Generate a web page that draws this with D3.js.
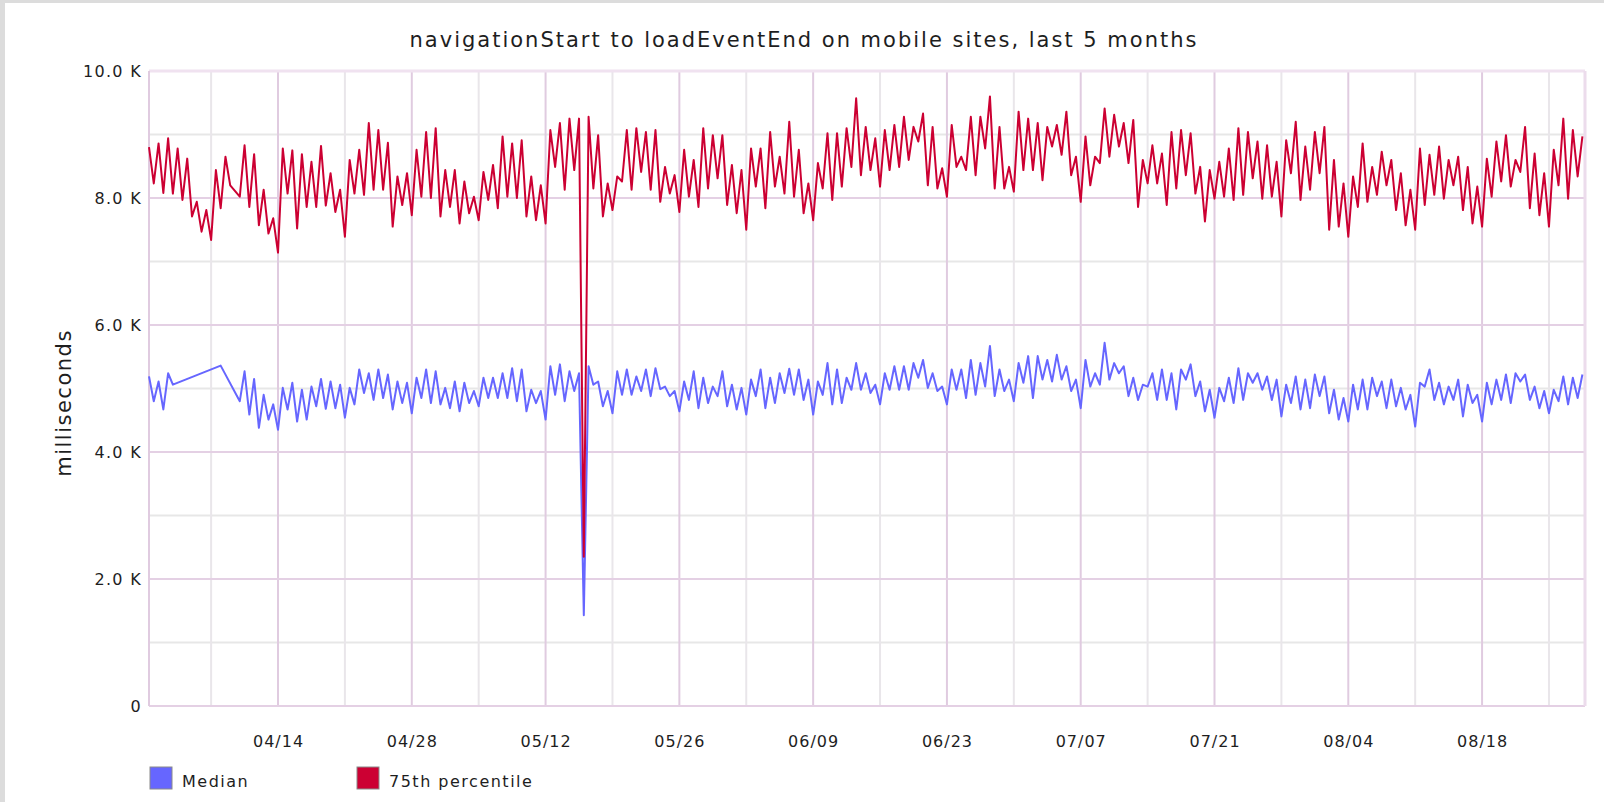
<!DOCTYPE html>
<html lang="en">
<head>
<meta charset="utf-8">
<style>
    body { margin: 0; background: #fff; }
    svg { display: block; }
    text { font-family: "DejaVu Sans", sans-serif; fill: #1e1e1e; }
</style>
</head>
<body>
<svg width="1604" height="802"></svg>
<script src="https://cdnjs.cloudflare.com/ajax/libs/d3/7.8.5/d3.min.js"></script>
<script>
    // Chart data (12 hour samples, ms)
    const chartTitle = "navigationStart to loadEventEnd on mobile sites, last 5 months";
    const yTickValues = [0, 2000, 4000, 6000, 8000, 10000];
    const yMinorValues = [1000, 3000, 5000, 7000, 9000];
    const seriesNames = ["Median", "75th percentile"];
    const firstSample = new Date(2019, 2, 31, 12);
    const sampleHours = 12;

    const median = [5190,
        4800,5110, 4670,5240, 5060,null, null,null, null,null, null,null, null,null, 5360,null, null,null, 4800,5270,
        4590,5150, 4380,4900, 4510,4750, 4350,5010, 4670,5090, 4480,4980, 4510,5030, 4720,5150, 4680,5110, 4690,5060,
        4540,5010, 4750,5300, 4930,5240, 4820,5300, 4850,5220, 4670,5110, 4770,5090, 4610,5170, 4850,5300, 4770,5270,
        4750,5010, 4690,5110, 4640,5090, 4770,4960, 4720,5170, 4850,5170, 4850,5240, 4850,5320, 4800,5300, 4640,4980,
        4770,4960, 4510,5350, 4900,5380, 4800,5270, 4960,5240, 1430,5350, 5060,5110, 4720,4960, 4610,5270, 4900,5300,
        4900,5190, 4960,5300, 4880,5320, 4990,5030, 4880,4960, 4640,5110, 4820,5270, 4690,5170, 4770,5030, 4880,5270,
        4720,5060, 4670,5010, 4590,5140, 4880,5300, 4690,5170, 4770,5240, 4930,5310, 4900,5300, 4820,5140, 4590,5110,
        4900,5400, 4750,5300, 4770,5170, 4980,5400, 4980,5240, 4930,5060, 4750,5240, 4980,5350, 4980,5350, 4980,5400,
        5170,5450, 5010,5240, 4960,5030, 4750,5300, 4980,5300, 4850,5450, 4900,5400, 5030,5670, 4880,5300, 4960,5140,
        4800,5400, 5090,5510, 4850,5510, 5140,5450, 5110,5530, 5140,5350, 4960,5140, 4690,5450, 5030,5240, 5060,5720,
        5140,5400, 5240,5350, 4880,5170, 4820,5060, 5030,5240, 4820,5300, 4820,5240, 4670,5300, 5140,5380, 4880,5110,
        4640,4980, 4540,5010, 4800,5170, 4770,5320, 4820,5240, 5090,5240, 4980,5190, 4820,5140, 4560,5060, 4770,5190,
        4670,5140, 4690,5220, 4880,5190, 4610,4980, 4510,4850, 4480,5060, 4670,5140, 4670,5170, 4880,5110, 4690,5140,
        4720,5010, 4670,4900, 4400,5090, 5030,5300, 4820,5090, 4750,5030, 4820,5140, 4560,5060, 4770,4900, 4480,5090,
        4750,5140, 4820,5220, 4770,5240, 5110,5220, 4820,5030, 4690,4960, 4610,4980, 4800,5190, 4750,5170, 4850,5220];

    const p75 = [8800,
        8230,8860, 8080,8940, 8070,8780, 7970,8620, 7710,7940, 7470,7810, 7340,8440, 7840,8650, 8200,null, 8020,8830,
        7860,8690, 7570,8130, 7440,7680, 7140,8780, 8070,8750, 7520,8690, 7860,8570, 7860,8820, 7880,8390, 7780,8130,
        7390,8600, 8070,8760, 8050,9180, 8130,9070, 8130,8870, 7550,8340, 7890,8390, 7730,8760, 8020,9040, 8000,9100,
        7710,8440, 7860,8440, 7600,8260, 7760,8020, 7650,8410, 7970,8520, 7840,8970, 8020,8860, 8000,8910, 7710,8340,
        7650,8200, 7600,9070, 8490,9180, 8130,9250, 8440,9250, 2350,9280, 8150,8990, 7710,8230, 7810,8340, 8260,9070,
        8130,9100, 8410,9040, 8130,9070, 7940,8490, 8070,8360, 7780,8760, 8020,8600, 7860,9100, 8150,8990, 8310,8990,
        7890,8520, 7760,8440, 7500,8780, 8180,8780, 7840,9040, 8180,8650, 8070,9200, 8020,8760, 7760,8230, 7650,8550,
        8150,9020, 7970,9020, 8180,9100, 8490,9570, 8360,9120, 8440,8940, 8180,9070, 8440,9150, 8490,9280, 8600,9120,
        8890,9330, 8200,9120, 8150,8470, 8020,9150, 8490,8650, 8440,9280, 8360,9280, 8780,9600, 8150,9120, 8150,8490,
        8100,9360, 8440,9250, 8440,9180, 8280,9120, 8810,9150, 8680,9360, 8360,8650, 7940,8970, 8200,8650, 8550,9410,
        8650,9310, 8810,9180, 8550,9230, 7860,8600, 8230,8830, 8230,8700, 7890,9040, 8150,9070, 8360,9020, 8070,8490,
        7630,8440, 7990,8570, 8020,8780, 7970,9100, 8050,9040, 8310,8890, 7990,8830, 8020,8570, 7710,8910, 8390,9200,
        7970,8810, 8130,9040, 8390,9120, 7500,8600, 7550,8230, 7390,8340, 7860,8860, 7940,8490, 8050,8730, 8200,8600,
        7810,8390, 7570,8130, 7500,8780, 7890,8680, 8050,8810, 7990,8600, 8200,8650, 7810,8490, 7600,8180, 7550,8620,
        8020,8890, 8260,8990, 8180,8600, 8410,9120, 7840,8700, 7730,8390, 7550,8760, 8200,9250, 7990,9070, 8340,8970];

    const colors = ["#6666ff", "#cc0033"];

    const svg = d3.select("svg");
    const width = 1604;
    const height = 802;

    // page frame: grey strip on the top and the left
    svg.append("rect").attr("width", width).attr("height", height).attr("fill", "#fff");
    svg.append("rect").attr("width", 5).attr("height", height).attr("fill", "#dcdcdc");
    svg.append("rect").attr("width", width).attr("height", 3).attr("fill", "#dcdcdc");

    // soft edge for the series lines, the reference is slightly blurred
    const defs = svg.append("defs");
    defs.append("filter").attr("id", "soft")
        .attr("x", "-5%").attr("y", "-5%").attr("width", "110%").attr("height", "110%")
        .append("feGaussianBlur").attr("stdDeviation", 0.45);

    /************************************************************************************
    * Scales
    ************************************************************************************/
    const plot = { left: 149, right: 1585, top: 71, bottom: 706 };
    const x = d3.scaleTime()
        .domain([new Date(2019, 2, 31, 12), new Date(2019, 7, 28, 18, 30)])
        .range([plot.left, plot.right]);
    const y = d3.scaleLinear().domain([0, 10000]).range([plot.bottom, plot.top]);

    const dates = median.map((_, i) => d3.timeHour.offset(firstSample, i * sampleHours));

    /************************************************************************************
    * Grid
    ************************************************************************************/
    const weeks = d3.timeWeek.range(new Date(2019, 3, 7), new Date(2019, 7, 28));
    const majorWeeks = weeks.filter((d, i) => i % 2 === 1);
    const minorWeeks = weeks.filter((d, i) => i % 2 === 0);

    const grid = svg.append("g");
    grid.selectAll(".hminor").data(yMinorValues).enter().append("line")
        .attr("x1", plot.left).attr("x2", plot.right)
        .attr("y1", d => y(d)).attr("y2", d => y(d))
        .attr("stroke", "#e7e7e7").attr("stroke-width", 2);
    grid.selectAll(".vminor").data(minorWeeks).enter().append("line")
        .attr("x1", d => x(d)).attr("x2", d => x(d))
        .attr("y1", plot.top).attr("y2", plot.bottom)
        .attr("stroke", "#e9e6ea").attr("stroke-width", 2);
    grid.selectAll(".vmajor").data(majorWeeks).enter().append("line")
        .attr("x1", d => x(d)).attr("x2", d => x(d))
        .attr("y1", plot.top).attr("y2", plot.bottom)
        .attr("stroke", "#e0cbe0").attr("stroke-width", 2);
    grid.selectAll(".hmajor").data(yTickValues).enter().append("line")
        .attr("x1", plot.left).attr("x2", plot.right)
        .attr("y1", d => y(d)).attr("y2", d => y(d))
        .attr("stroke", d => d === 10000 ? "#f0e2f0" : "#e4d0e4")
        .attr("stroke-width", d => d === 10000 ? 3 : 2);
    // frame sides
    grid.append("line").attr("x1", plot.left).attr("x2", plot.left)
        .attr("y1", plot.top).attr("y2", plot.bottom).attr("stroke", "#e0cbe0").attr("stroke-width", 2);
    grid.append("line").attr("x1", plot.right).attr("x2", plot.right)
        .attr("y1", plot.top).attr("y2", plot.bottom).attr("stroke", "#ecdcec").attr("stroke-width", 3);

    /************************************************************************************
    * Axes
    ************************************************************************************/
    const yAxis = svg.append("g").attr("transform", `translate(${plot.left}, 0)`)
        .call(d3.axisLeft(y).tickValues(yTickValues).tickSize(0).tickPadding(7)
            .tickFormat(d => d === 0 ? "0" : (d / 1000).toFixed(1) + " K"));
    yAxis.select(".domain").remove();
    yAxis.selectAll("text").attr("font-size", 16).attr("letter-spacing", 1.3)
        .style("font-family", "DejaVu Sans").attr("fill", "#222");

    const xAxis = svg.append("g").attr("transform", `translate(0, ${plot.bottom})`)
        .call(d3.axisBottom(x).tickValues(majorWeeks).tickSize(0).tickPadding(30)
            .tickFormat(d3.timeFormat("%m/%d")));
    xAxis.select(".domain").remove();
    xAxis.selectAll("text").attr("font-size", 16).attr("letter-spacing", 1)
        .style("font-family", "DejaVu Sans").attr("fill", "#222");

    svg.append("text")
        .attr("transform", "translate(71, 403) rotate(-90)")
        .attr("text-anchor", "middle")
        .attr("font-size", 21).attr("letter-spacing", 1.5)
        .text("milliseconds");

    svg.append("text")
        .attr("x", 804).attr("y", 47)
        .attr("text-anchor", "middle")
        .attr("font-size", 21).attr("letter-spacing", 2)
        .text(chartTitle);

    /************************************************************************************
    * Lines
    ************************************************************************************/
    const line = d3.line().x(d => x(d.date)).y(d => y(d.value));
    [median, p75].forEach((values, s) => {
        const points = values.map((v, i) => ({ date: dates[i], value: v }))
            .filter(d => d.value !== null);
        svg.append("path")
            .datum(points)
            .attr("d", line)
            .attr("fill", "none")
            .attr("stroke", colors[s])
            .attr("stroke-width", 2)
            .attr("stroke-linejoin", "round")
            .attr("filter", "url(#soft)");
    });

    /************************************************************************************
    * Legend
    ************************************************************************************/
    const legendX = [150, 357];
    const legend = svg.append("g");
    seriesNames.forEach((name, i) => {
        legend.append("rect")
            .attr("x", legendX[i]).attr("y", 767).attr("width", 22).attr("height", 22)
            .attr("fill", colors[i]).attr("stroke", "#8a8a8a").attr("stroke-width", 1);
        legend.append("text")
            .attr("x", legendX[i] + 32).attr("y", 787)
            .attr("font-size", 16).attr("letter-spacing", 1.5)
            .text(name);
    });
</script>
</body>
</html>
